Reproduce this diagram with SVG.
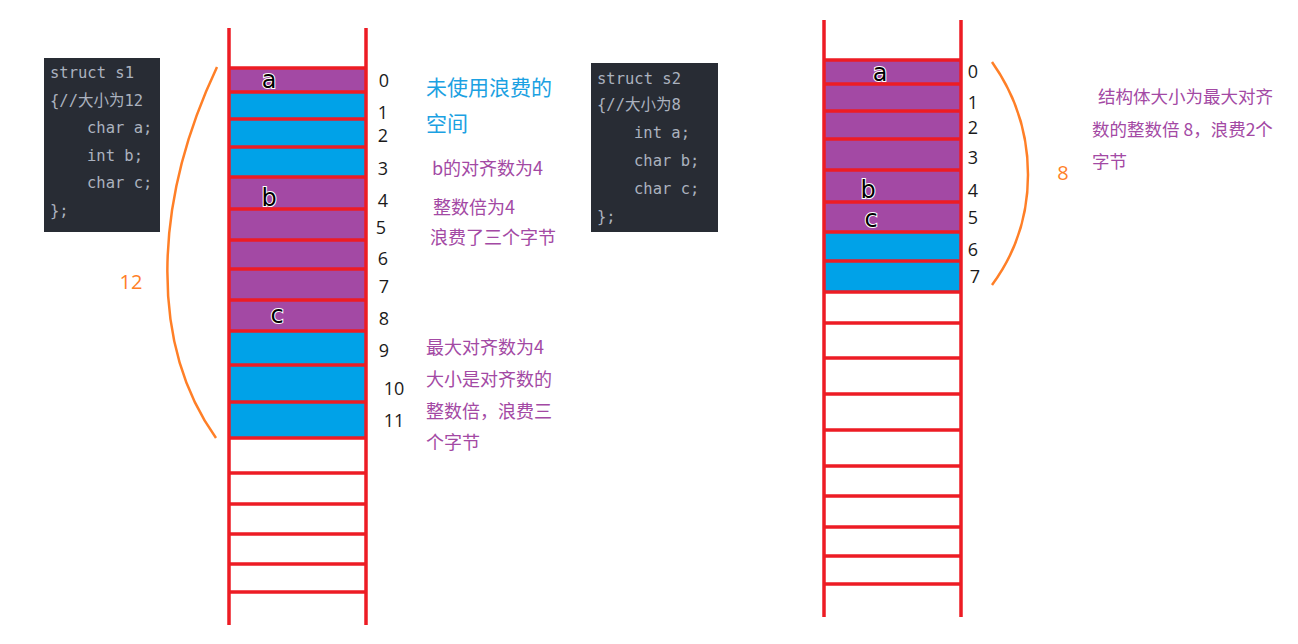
<svg xmlns="http://www.w3.org/2000/svg" width="1298" height="644" viewBox="0 0 1298 644">
<style>
.code{fill:#282C34}
.ct{font-family:"DejaVu Sans Mono","Noto Sans CJK SC",monospace;font-size:15.5px;fill:#ABB2BF}
.pu{fill:#A349A4}
.bl{fill:#00A2E8}
.ln{stroke:#ED1C24;stroke-width:3.5;fill:none}
.idx{font-family:"Open Sans","Noto Sans CJK SC",sans-serif;font-size:18px;fill:#1a1a1a;text-anchor:middle}
.let{font-family:"DejaVu Sans",sans-serif;font-size:24px;fill:#000;stroke:#fff;stroke-width:2;paint-order:stroke;text-anchor:middle}
.cv{stroke:#FF7F27;stroke-width:2.5;fill:none}
.or{font-family:"Open Sans","Noto Sans CJK SC",sans-serif;font-size:20px;fill:#FF7F27;text-anchor:middle}
.pt{font-family:"Noto Sans CJK SC",sans-serif;font-size:18px;fill:#A349A4}
.btx{font-family:"Noto Sans CJK SC",sans-serif;font-size:21px;fill:#1BA1E2}
</style>
<rect width="1298" height="644" fill="#fff"/>

<g id="code-s1">
<rect class="code" x="44" y="58" width="116" height="174"/>
<text class="ct" x="50" y="78">struct s1</text>
<text class="ct" x="50" y="106">{//大小为12</text>
<text class="ct" x="87" y="133">char a;</text>
<text class="ct" x="87" y="161">int b;</text>
<text class="ct" x="87" y="188">char c;</text>
<text class="ct" x="50" y="216">};</text>
</g>

<g id="column-s1">
<rect class="pu" x="229" y="68" width="137" height="24"/>
<rect class="bl" x="229" y="92" width="137" height="85"/>
<rect class="pu" x="229" y="177" width="137" height="154"/>
<rect class="bl" x="229" y="331" width="137" height="107"/>
<path class="ln" d="M229,28V625M366,28V625"/>
<path class="ln" d="M229,68H366M229,92H366M229,119H366M229,147H366M229,177H366M229,209H366M229,240H366M229,269H366M229,300H366M229,331H366M229,365H366M229,402H366M229,438H366M229,473H366M229,504H366M229,534H366M229,564H366M229,592H366"/>
<text class="let" x="269" y="88">a</text>
<text class="let" x="269" y="206">b</text>
<text class="let" x="277" y="323">c</text>
</g>

<g id="index-s1">
<text class="idx" x="384" y="87">0</text>
<text class="idx" x="383" y="119">1</text>
<text class="idx" x="383" y="142">2</text>
<text class="idx" x="383" y="175">3</text>
<text class="idx" x="383" y="207">4</text>
<text class="idx" x="381" y="234">5</text>
<text class="idx" x="383" y="265">6</text>
<text class="idx" x="384" y="293">7</text>
<text class="idx" x="384" y="325">8</text>
<text class="idx" x="384" y="357">9</text>
<text class="idx" x="394" y="395">10</text>
<text class="idx" x="394" y="427">11</text>
</g>

<g id="brace-s1">
<path class="cv" d="M217,67C152,205 150,345 216,438"/>
<text class="or" x="131" y="289">12</text>
</g>

<g id="notes-s1">
<text class="btx" x="426" y="95">未使用浪费的</text>
<text class="btx" x="426" y="131">空间</text>
<text class="pt" x="432" y="175">b的对齐数为4</text>
<text class="pt" x="433" y="214">整数倍为4</text>
<text class="pt" x="430" y="244">浪费了三个字节</text>
<text class="pt" x="426" y="354">最大对齐数为4</text>
<text class="pt" x="426" y="386">大小是对齐数的</text>
<text class="pt" x="426" y="418">整数倍，浪费三</text>
<text class="pt" x="426" y="449">个字节</text>
</g>

<g id="code-s2">
<rect class="code" x="591" y="63" width="127" height="169"/>
<text class="ct" x="597" y="84">struct s2</text>
<text class="ct" x="597" y="110">{//大小为8</text>
<text class="ct" x="634" y="138">int a;</text>
<text class="ct" x="634" y="166">char b;</text>
<text class="ct" x="634" y="194">char c;</text>
<text class="ct" x="597" y="222">};</text>
</g>

<g id="column-s2">
<rect class="pu" x="824" y="60" width="137" height="172"/>
<rect class="bl" x="824" y="232" width="137" height="60"/>
<path class="ln" d="M824,20V617M961,20V617"/>
<path class="ln" d="M824,60H961M824,84H961M824,111H961M824,139H961M824,170H961M824,202H961M824,232H961M824,261H961M824,292H961M824,323H961M824,358H961M824,394H961M824,430H961M824,466H961M824,496H961M824,527H961M824,556H961M824,584H961"/>
<text class="let" x="880" y="81">a</text>
<text class="let" x="868" y="198">b</text>
<text class="let" x="871" y="227">c</text>
</g>

<g id="index-s2">
<text class="idx" x="973" y="78">0</text>
<text class="idx" x="973" y="109">1</text>
<text class="idx" x="973" y="134">2</text>
<text class="idx" x="973" y="164">3</text>
<text class="idx" x="973" y="197">4</text>
<text class="idx" x="973" y="224">5</text>
<text class="idx" x="973" y="256">6</text>
<text class="idx" x="975" y="283">7</text>
</g>

<g id="brace-s2">
<path class="cv" d="M992,62C1040,130 1040,220 992,285"/>
<text class="or" x="1063" y="180">8</text>
</g>

<g id="notes-s2">
<text class="pt" x="1098" y="103" style="font-size:17.5px">结构体大小为最大对齐</text>
<text class="pt" x="1092" y="136" style="font-size:17.5px">数的整数倍 8，浪费2个</text>
<text class="pt" x="1092" y="168" style="font-size:17.5px">字节</text>
</g>
</svg>
